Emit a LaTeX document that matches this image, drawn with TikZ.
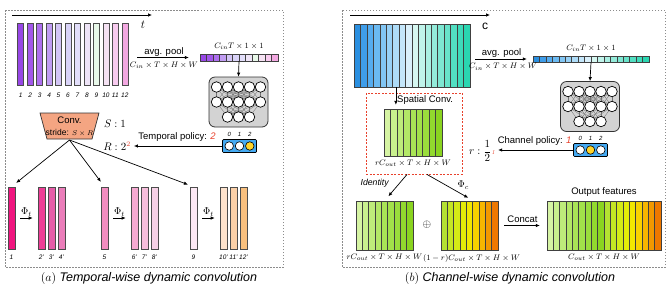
\documentclass[tikz,border=0pt]{standalone}
\usepackage{amsmath, amssymb}
\usepackage{fontspec}
\setsansfont{Liberation Sans}
\usepackage{tikz}
\usetikzlibrary{positioning, arrows.meta, shapes.geometric}
\usepackage{xcolor}
% temporal bars (top row)
\definecolor{tp1}{HTML}{9747E6}
\definecolor{tp2}{HTML}{A257EA}
\definecolor{tp3}{HTML}{AD6FEE}
\definecolor{tp4}{HTML}{C09CF2}
\definecolor{tp5}{HTML}{D3C5F6}
\definecolor{tp6}{HTML}{D9D3F8}
\definecolor{tp7}{HTML}{E2DEFA}
\definecolor{tp8}{HTML}{EEE4F7}
\definecolor{tp9}{HTML}{E8F8E9}
\definecolor{tp10}{HTML}{F5E2F3}
\definecolor{tp11}{HTML}{F8CBEF}
\definecolor{tp12}{HTML}{F3A8E1}
% temporal bars (output row)
\definecolor{bt1}{HTML}{F0157F}
\definecolor{bt2}{HTML}{EE3D96}
\definecolor{bt3}{HTML}{E65CA8}
\definecolor{bt4}{HTML}{EB7DBA}
\definecolor{bt5}{HTML}{F28DC0}
\definecolor{bt6}{HTML}{F6AAD2}
\definecolor{bt7}{HTML}{F7BEDC}
\definecolor{bt8}{HTML}{F6D0E6}
\definecolor{bt9}{HTML}{FCE8F4}
\definecolor{bt10}{HTML}{FDE2CC}
\definecolor{bt11}{HTML}{FBD0A8}
\definecolor{bt12}{HTML}{F9C07E}
% channel strips
\definecolor{cb1}{HTML}{2A8FE0}
\definecolor{cb2}{HTML}{3F9DE9}
\definecolor{cb3}{HTML}{55ACEF}
\definecolor{cb4}{HTML}{6BBAF2}
\definecolor{cb5}{HTML}{82C6F4}
\definecolor{cb6}{HTML}{98D1F6}
\definecolor{cb7}{HTML}{AEDCF8}
\definecolor{cb8}{HTML}{C4E6FA}
\definecolor{cb9}{HTML}{DAF0FB}
\definecolor{cb10}{HTML}{D6F7F1}
\definecolor{cb11}{HTML}{C0F3EA}
\definecolor{cb12}{HTML}{AAEFE2}
\definecolor{cb13}{HTML}{94EBDA}
\definecolor{cb14}{HTML}{7EE7D2}
\definecolor{cb15}{HTML}{68E3CA}
\definecolor{cb16}{HTML}{52DFC2}
\definecolor{cb17}{HTML}{3EDBBA}
\definecolor{cb18}{HTML}{2AD6B1}
\definecolor{cg1}{HTML}{D6F4A4}
\definecolor{cg2}{HTML}{C9F08E}
\definecolor{cg3}{HTML}{BEEC7A}
\definecolor{cg4}{HTML}{B3E866}
\definecolor{cg5}{HTML}{A9E456}
\definecolor{cg6}{HTML}{A2E14A}
\definecolor{cg7}{HTML}{9ADD3C}
\definecolor{cg8}{HTML}{92D92E}
\definecolor{cg9}{HTML}{8AD420}
\definecolor{co1}{HTML}{B4E232}
\definecolor{co2}{HTML}{C4E624}
\definecolor{co3}{HTML}{D4EA16}
\definecolor{co4}{HTML}{E4EC08}
\definecolor{co5}{HTML}{F2E800}
\definecolor{co6}{HTML}{F8D200}
\definecolor{co7}{HTML}{F6B600}
\definecolor{co8}{HTML}{F29800}
\definecolor{co9}{HTML}{EE7800}
\definecolor{nngray}{HTML}{D3D3D3}
\definecolor{polblue}{HTML}{45AAF2}
\definecolor{polyellow}{HTML}{FFD42A}
\definecolor{polred}{HTML}{E8412C}
\definecolor{convfill}{HTML}{F4A582}
\tikzset{
    panel/.style={draw=black!45, dash pattern=on 1.5pt off 1.5pt, line width=0.8pt},
    blockbox/.style={rectangle, draw=none, inner sep=0pt},
    tbar/.style={rectangle, draw=black!70, line width=0.6pt, inner sep=0pt, minimum width=6pt, minimum height=62pt},
    fstrip/.style={rectangle, draw=black!75, line width=0.5pt, inner sep=0pt},
    vcell/.style={rectangle, draw=black!75, line width=0.4pt, inner sep=0pt, minimum height=7pt},
    neuron/.style={circle, draw=black, line width=0.7pt, fill=white, minimum size=10.5pt, inner sep=0pt},
    nnbox/.style={rectangle, rounded corners=6pt, draw=black!80, line width=0.8pt, fill=nngray, minimum width=59pt, minimum height=50pt},
    nnline/.style={draw=black!55, line width=0.3pt},
    polbox/.style={rectangle, rounded corners=1pt, draw=black, line width=0.7pt, fill=polblue, minimum width=34pt, minimum height=13pt},
    polnode/.style={circle, draw=black, line width=0.6pt, minimum size=8.5pt, inner sep=0pt},
    convshape/.style={draw=black!80, line width=0.7pt, fill=convfill},
    spatialbox/.style={rectangle, draw=polred, dash pattern=on 2pt off 1.5pt, line width=0.9pt, inner sep=0pt},
    arr/.style={-{Latex[length=4pt, width=3.5pt]}, line width=0.7pt},
    lbl/.style={font=\sffamily\fontsize{9.5}{11}\selectfont, inner sep=1pt},
    mlbl/.style={font=\fontsize{8}{9}\selectfont, inner sep=1pt},
    bigm/.style={font=\fontsize{10.5}{12}\selectfont, inner sep=1pt},
    idx/.style={font=\sffamily\itshape\fontsize{6.5}{7}\selectfont, inner sep=0pt},
    captxt/.style={font=\sffamily\itshape\fontsize{12.5}{14}\selectfont}
}

\begin{document}
\begin{tikzpicture}[x=1pt, y=-1pt]
\useasboundingbox (0,0) rectangle (669,293);

% Panel frames
\draw[panel] (5,10) rectangle (283,267);
\draw[panel] (342,10) rectangle (665,267);

%%% (a) temporal-wise
\coordinate (tstart) at (12,15);
\coordinate (tend) at (152,15);
\draw[arr] (tstart) -- (tend);
\node[inner sep=0pt, font=\fontsize{12}{12}\selectfont] (tlab) at (143,25) {$t$};

\foreach \i in {1,...,12} {
    \node[tbar, fill=tp\i] (tx\i) at ({11.2+9.47*\i}, 54) {};
    \node[idx] (txl\i) at ({11.2+9.47*\i}, 95) {\i};
}

% pooled vector
\node[blockbox, minimum width=78pt, minimum height=7pt] (tvec) at (239,57.5) {};
\foreach \i in {1,...,12}
    \node[vcell, minimum width=6.5pt, fill=tp\i] (tv\i) at ({196.75+6.5*\i}, 57.5) {};
\node[mlbl, above=3pt of tvec] (tvecl) {$C_{in}T\times 1\times 1$};

\draw[arr, shorten <=9pt, shorten >=11pt] (tx12.east |- tvec.west) -- (tvec.west)
    node[midway, above, lbl] {avg. pool}
    node[midway, below=3pt, mlbl] {$C_{in}\times T\times H\times W$};

% policy networks (both panels)
\foreach \p/\cx/\cy in {t/238.5/102, c/590/106.5} {
    \node[nnbox] (nn\p) at (\cx,\cy) {};
    \foreach \j in {1,...,5} {
        \coordinate (pa\p\j) at ({\cx+11*(\j-3)}, {\cy-15});
        \coordinate (pb\p\j) at ({\cx+11*(\j-3)}, \cy);
    }
    \foreach \j in {1,2,3}
        \coordinate (pc\p\j) at ({\cx+11*(\j-2)}, {\cy+15});
    \foreach \j in {1,...,5} {
        \foreach \k in {1,...,5} \draw[nnline] (pa\p\j) -- (pb\p\k);
        \foreach \k in {1,2,3} \draw[nnline] (pb\p\j) -- (pc\p\k);
    }
    \foreach \j in {1,...,5} {
        \node[neuron] (na\p\j) at (pa\p\j) {};
        \node[neuron] (nb\p\j) at (pb\p\j) {};
    }
    \foreach \j in {1,2,3}
        \node[neuron] (nc\p\j) at (pc\p\j) {};
}

% policy outputs (both panels)
\foreach \p/\cx/\cy/\s in {t/239.5/146/3, c/590.5/150/2} {
    \node[polbox] (pol\p) at (\cx,\cy) {};
    \foreach \i in {1,2,3} {
        \ifnum\i=\s \def\pf{polyellow}\else\def\pf{white}\fi
        \node[polnode, fill=\pf] (pn\p\i) at ({\cx+10.3*(\i-2)}, \cy) {};
        \node[idx, font=\sffamily\itshape\fontsize{6}{6}\selectfont] (pl\p\i) at ({\cx+10.3*(\i-2)}, {\cy-12}) {\the\numexpr\i-1\relax};
    }
}

\draw[arr] (tvec.south) -- (nnt.north);

% conv with dynamic stride
\draw[convshape] (40,113) -- (99,113) -- (92,139) -- (47,139) -- cycle;
\coordinate (convbot) at (69.5,140);
\node[lbl] (convl) at (69.5,120.5) {Conv.};
\node[lbl, font=\sffamily\fontsize{8.5}{9}\selectfont] (convs) at (69.5,132.5) {stride: {\fontsize{7.5}{8}\selectfont$S\times R$}};
\node[bigm] (slab) at (115,124) {$S:1$};
\node[bigm] (rlab) at (117,146) {$R:2^{\textcolor{polred}{2}}$};

\draw[arr, shorten >=2pt] (polt.west) -- (polt.west -| rlab.east)
    node[midway, above=3pt, lbl] {Temporal policy: \textcolor{polred}{\textit{2}}};

% output frames
\foreach \x/\i/\l in {11.5/1/1, 41.5/2/2', 51.5/3/3', 61.5/4/4', 104.5/5/5, 134.5/6/6', 144.5/7/7', 154.5/8/8', 193.5/9/9, 223.5/10/10', 233.5/11/11', 243.5/12/12'} {
    \node[tbar, minimum width=7pt, fill=bt\i] (ty\i) at (\x,218) {};
    \node[idx] (tyl\i) at (\x,257) {\l};
}

\foreach \t in {1,5,9}
    \draw[arr, shorten >=6pt] (convbot) -- (ty\t.north);

\foreach \a/\b in {1/2, 5/6, 9/10}
    \draw[arr, shorten <=5pt, shorten >=5pt] (ty\a.east) -- (ty\b.west)
        node[midway, above, inner sep=1.5pt, font=\fontsize{10}{11}\selectfont] {$\Phi_t$};

\node[captxt] (capa) at (149,278) {$(a)$ Temporal-wise dynamic convolution};

%%% (b) channel-wise
\coordinate (cstart) at (350,15);
\coordinate (cend) at (490,15);
\draw[arr] (cstart) -- (cend);
\node[inner sep=0pt, font=\sffamily\fontsize{12}{12}\selectfont] (clab) at (485,26) {c};

\node[blockbox, minimum width=116pt, minimum height=63pt] (cin) at (412,55.5) {};
\foreach \i in {1,...,18}
    \node[fstrip, minimum width=6.44pt, minimum height=63pt, fill=cb\i] (ci\i) at ({350.78+6.44*\i}, 55.5) {};

\node[blockbox, minimum width=116pt, minimum height=6.5pt] (cvec) at (591,59) {};
\foreach \i in {1,...,18}
    \node[vcell, minimum width=6.44pt, minimum height=6.5pt, fill=cb\i] (cv\i) at ({529.78+6.44*\i}, 59) {};
\node[mlbl, above=3pt of cvec] (cvecl) {$C_{in}T\times 1\times 1$};

\draw[arr, shorten <=5pt, shorten >=6pt] (cin.east |- cvec.west) -- (cvec.west)
    node[midway, above, lbl] {avg. pool}
    node[midway, below=3pt, xshift=1.5pt, mlbl] {$C_{in}\times T\times H\times W$};

\draw[arr] (cvec.south) -- (nnc.north);

\node[bigm, font=\fontsize{11}{12}\selectfont] (rlabc) at (482,151) {$r:\dfrac{1}{2}$\textcolor{polred}{\fontsize{6}{6}\selectfont\textit{1}}};
\draw[arr, shorten >=2pt] (polc.west) -- (polc.west -| rlabc.east)
    node[midway, above=3pt, lbl] {Channel policy: \textcolor{polred}{\textit{1}}};

% spatial conv on part of the channels
\node[spatialbox, minimum width=96pt, minimum height=81pt] (spbox) at (414,133.5) {};
\node[blockbox, minimum width=58pt, minimum height=47pt] (gsp) at (413,132.5) {};
\foreach \i in {1,...,9}
    \node[fstrip, minimum width=6.44pt, minimum height=47pt, fill=cg\i] (gs\i) at ({380.78+6.44*\i}, 132.5) {};
\node[mlbl, below=3pt of gsp] (gspl) {$rC_{out}\times T\times H\times W$};

\draw[arr, shorten >=4pt] (ci7.south) -- (ci7.south |- gsp.north)
    node[pos=0.6, right, lbl] {Spatial Conv.};

% identity / cheap branch
\node[blockbox, minimum width=57pt, minimum height=49pt] (gid) at (384.5,225.5) {};
\foreach \i in {1,...,9}
    \node[fstrip, minimum width=6.33pt, minimum height=49pt, fill=cg\i] (gi\i) at ({352.8+6.33*\i}, 225.5) {};
\node[blockbox, minimum width=57pt, minimum height=49pt] (gor) at (469.5,225.5) {};
\foreach \i in {1,...,9}
    \node[fstrip, minimum width=6.33pt, minimum height=49pt, fill=co\i] (go\i) at ({437.8+6.33*\i}, 225.5) {};
\node[font=\fontsize{11}{11}\selectfont] (oplus) at (427,225) {$\oplus$};

\draw[arr, shorten >=6pt] ([xshift=-7pt]spbox.south) -- (gid.north)
    node[pos=0.4, left, xshift=-8pt, yshift=2pt, lbl, font=\sffamily\itshape\fontsize{8.7}{10}\selectfont] {Identity};
\draw[arr, shorten >=6pt] ([xshift=13pt]spbox.south) -- ([xshift=4pt]gor.north)
    node[pos=0.5, above right, xshift=6pt, yshift=-3pt, font=\fontsize{10}{11}\selectfont, inner sep=1pt] {$\Phi_c$};

\node[mlbl, below=3pt of gid] (gidl) {$rC_{out}\times T\times H\times W$};
\node[mlbl, below=3pt of gor, xshift=2pt] (gorl) {$(1-r)C_{out}\times T\times H\times W$};

% concatenated output
\node[blockbox, minimum width=114pt, minimum height=49pt] (gout) at (604,225.5) {};
\foreach \c [count=\i] in {cg1,cg2,cg3,cg4,cg5,cg6,cg7,cg8,cg9,co1,co2,co3,co4,co5,co6,co7,co8,co9}
    \node[fstrip, minimum width=6.33pt, minimum height=49pt, fill=\c] (gu\i) at ({543.8+6.33*\i}, 225.5) {};
\node[lbl, above=3pt of gout] (goutt) {Output features};
\node[mlbl, below=3pt of gout] (goutl) {$C_{out}\times T\times H\times W$};

\draw[arr, shorten <=6pt, shorten >=7pt] (gor.east) -- (gout.west)
    node[midway, above=2pt, lbl] {Concat};

\node[captxt] (capb) at (510,278) {$(b)$ Channel-wise dynamic convolution};
\end{tikzpicture}
\end{document}
